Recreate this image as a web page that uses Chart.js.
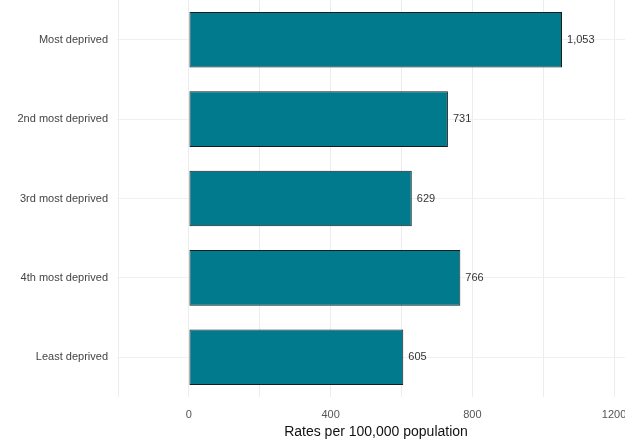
<!DOCTYPE html>
<html>
<head>
<meta charset="utf-8">
<script src="https://cdn.jsdelivr.net/npm/chart.js@4"></script>
<style>
  html, body { margin: 0; padding: 0; background: #fff; overflow: hidden; }
  #wrap { width: 660px; height: 441px; }
</style>
</head>
<body>
<div id="wrap"><canvas id="myChart" width="660" height="441"></canvas></div>
<script>
// 데이터
const categories = ['Most deprived', '2nd most deprived', '3rd most deprived', '4th most deprived', 'Least deprived'];
const rates = [1053, 731, 629, 766, 605];
const gridValues = [-200, 0, 200, 400, 600, 800, 1000, 1200];
const tickLabels = [0, 400, 800, 1200];

// 막대 끝 값 표시
const valueLabels = {
  id: 'valueLabels',
  afterDatasetsDraw(chart) {
    const ctx = chart.ctx;
    const meta = chart.getDatasetMeta(0);
    ctx.save();
    ctx.font = '11px "Liberation Sans", Arial, sans-serif';
    ctx.fillStyle = '#333';
    ctx.textAlign = 'left';
    ctx.textBaseline = 'middle';
    meta.data.forEach((bar, i) => {
      ctx.fillText(rates[i].toLocaleString('en-US'), bar.x + 5, bar.y);
    });
    ctx.restore();
  }
};

new Chart(document.getElementById('myChart').getContext('2d'), {
  type: 'bar',
  data: {
    labels: categories,
    datasets: [{
      data: rates,
      backgroundColor: '#007A8C',
      borderColor: '#1b1b1b',
      borderWidth: 1,
      borderSkipped: false,
      barPercentage: 0.7,
      categoryPercentage: 1
    }]
  },
  options: {
    indexAxis: 'y',
    responsive: false,
    animation: false,
    layout: { padding: { top: -2, right: 25, left: 0, bottom: 0 } },
    plugins: {
      legend: { display: false },
      tooltip: { enabled: false }
    },
    scales: {
      x: {
        min: -203,
        max: 1259,
        afterBuildTicks(scale) {
          scale.ticks = gridValues.map(v => ({ value: v }));
        },
        afterFit(scale) { scale.height = 44; },
        border: { display: false },
        grid: { color: '#ececec', lineWidth: 1, drawTicks: false },
        ticks: {
          padding: 11,
          color: '#555',
          font: { family: '"Liberation Sans", Arial, sans-serif', size: 11 },
          maxRotation: 0,
          autoSkip: false,
          callback: v => tickLabels.includes(v) ? String(v) : ''
        },
        title: {
          display: true,
          text: 'Rates per 100,000 population',
          color: '#111',
          font: { family: '"Liberation Sans", Arial, sans-serif', size: 14 },
          padding: { top: 0, bottom: 0 }
        }
      },
      y: {
        afterFit(scale) {
          scale.width = 117;
          scale.paddingTop = 0;
          scale.paddingBottom = 0;
        },
        border: { display: false },
        grid: { color: '#f0f0f0', offset: false, drawTicks: false },
        ticks: {
          padding: 9,
          color: '#444',
          font: { family: '"Liberation Sans", Arial, sans-serif', size: 11 }
        }
      }
    }
  },
  plugins: [valueLabels]
});
</script>
</body>
</html>
